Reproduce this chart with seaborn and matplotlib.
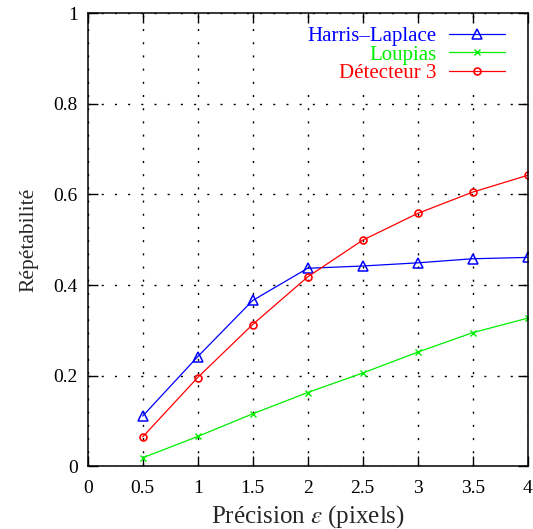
import pandas as pd
import seaborn as sns
import matplotlib.pyplot as plt

# -- data
precision = [0.5, 1, 1.5, 2, 2.5, 3, 3.5, 4]
harris_laplace = [0.111, 0.242, 0.366, 0.437, 0.442, 0.449, 0.458, 0.461]
loupias = [0.019, 0.066, 0.116, 0.163, 0.206, 0.252, 0.295, 0.327]
detecteur3 = [0.065, 0.196, 0.313, 0.418, 0.499, 0.558, 0.605, 0.642]

series_names = ["Harris\u2013Laplace", "Loupias", "D\u00e9tecteur 3"]
series_colors = ["#0000ff", "#00ee00", "#ff0000"]
x_ticks = [0, 0.5, 1, 1.5, 2, 2.5, 3, 3.5, 4]
x_tick_labels = ["0", "0.5", "1", "1.5", "2", "2.5", "3", "3.5", "4"]
y_ticks = [0, 0.2, 0.4, 0.6, 0.8, 1]
y_tick_labels = ["0", "0.2", "0.4", "0.6", "0.8", "1"]

records = []
for name, vals in zip(series_names, [harris_laplace, loupias, detecteur3]):
    for x, y in zip(precision, vals):
        records.append({"precision": x, "rep": y, "detector": name})
df = pd.DataFrame(records)

sns.set_theme(style="ticks")
plt.rcParams["font.family"] = ["Liberation Serif", "DejaVu Serif"]
plt.rcParams["mathtext.fontset"] = "stix"

fig = plt.figure(figsize=(5.33, 5.29), dpi=100)
ax = fig.add_axes([0.1645, 0.1183, 0.8255, 0.8571])

marker_kw = {
    "Harris\u2013Laplace": dict(marker="^", markersize=7, markerfacecolor="none", markeredgewidth=1.1),
    "Loupias": dict(marker="x", markersize=5, markeredgewidth=1.0),
    "D\u00e9tecteur 3": dict(marker="o", markersize=5, markerfacecolor="none", markeredgewidth=1.2),
}
for name, col in zip(series_names, series_colors):
    sub = df[df["detector"] == name]
    sns.lineplot(data=sub, x="precision", y="rep", ax=ax, color=col, linewidth=0.9,
                 markeredgecolor=col, label=name, **marker_kw[name])

ax.set_xlim(0, 4)
ax.set_ylim(0, 1)
ax.set_xticks(x_ticks)
ax.set_xticklabels(x_tick_labels)
ax.set_yticks(y_ticks)
ax.set_yticklabels(y_tick_labels)
ax.tick_params(direction="in", length=7, width=1, top=True, right=True,
               labelsize=14, colors="black", pad=7)
ax.tick_params(axis="x", pad=10)
for sp in ax.spines.values():
    sp.set_color("black")
    sp.set_linewidth(1.1)
ax.grid(True, color="black", linestyle=(0, (1.5, 8)), linewidth=1.0)

ax.set_xlabel("Pr\u00e9cision $\\varepsilon$ (pixels)", fontsize=18, labelpad=4)
ax.set_ylabel("R\u00e9p\u00e9tabilit\u00e9", fontsize=15.5, labelpad=11)

leg = ax.legend(loc="upper right", bbox_to_anchor=(0.954, 0.975), frameon=True,
                markerfirst=False, fontsize=15, handlelength=2.7, handletextpad=0.6,
                labelspacing=-0.05, borderpad=0.1, borderaxespad=0, numpoints=1,
                fancybox=False, framealpha=1)
leg.get_frame().set_edgecolor("none")
leg.get_frame().set_facecolor("white")
for txt, col in zip(leg.get_texts(), series_colors):
    txt.set_color(col)

fig.savefig("out.png", dpi=100)
